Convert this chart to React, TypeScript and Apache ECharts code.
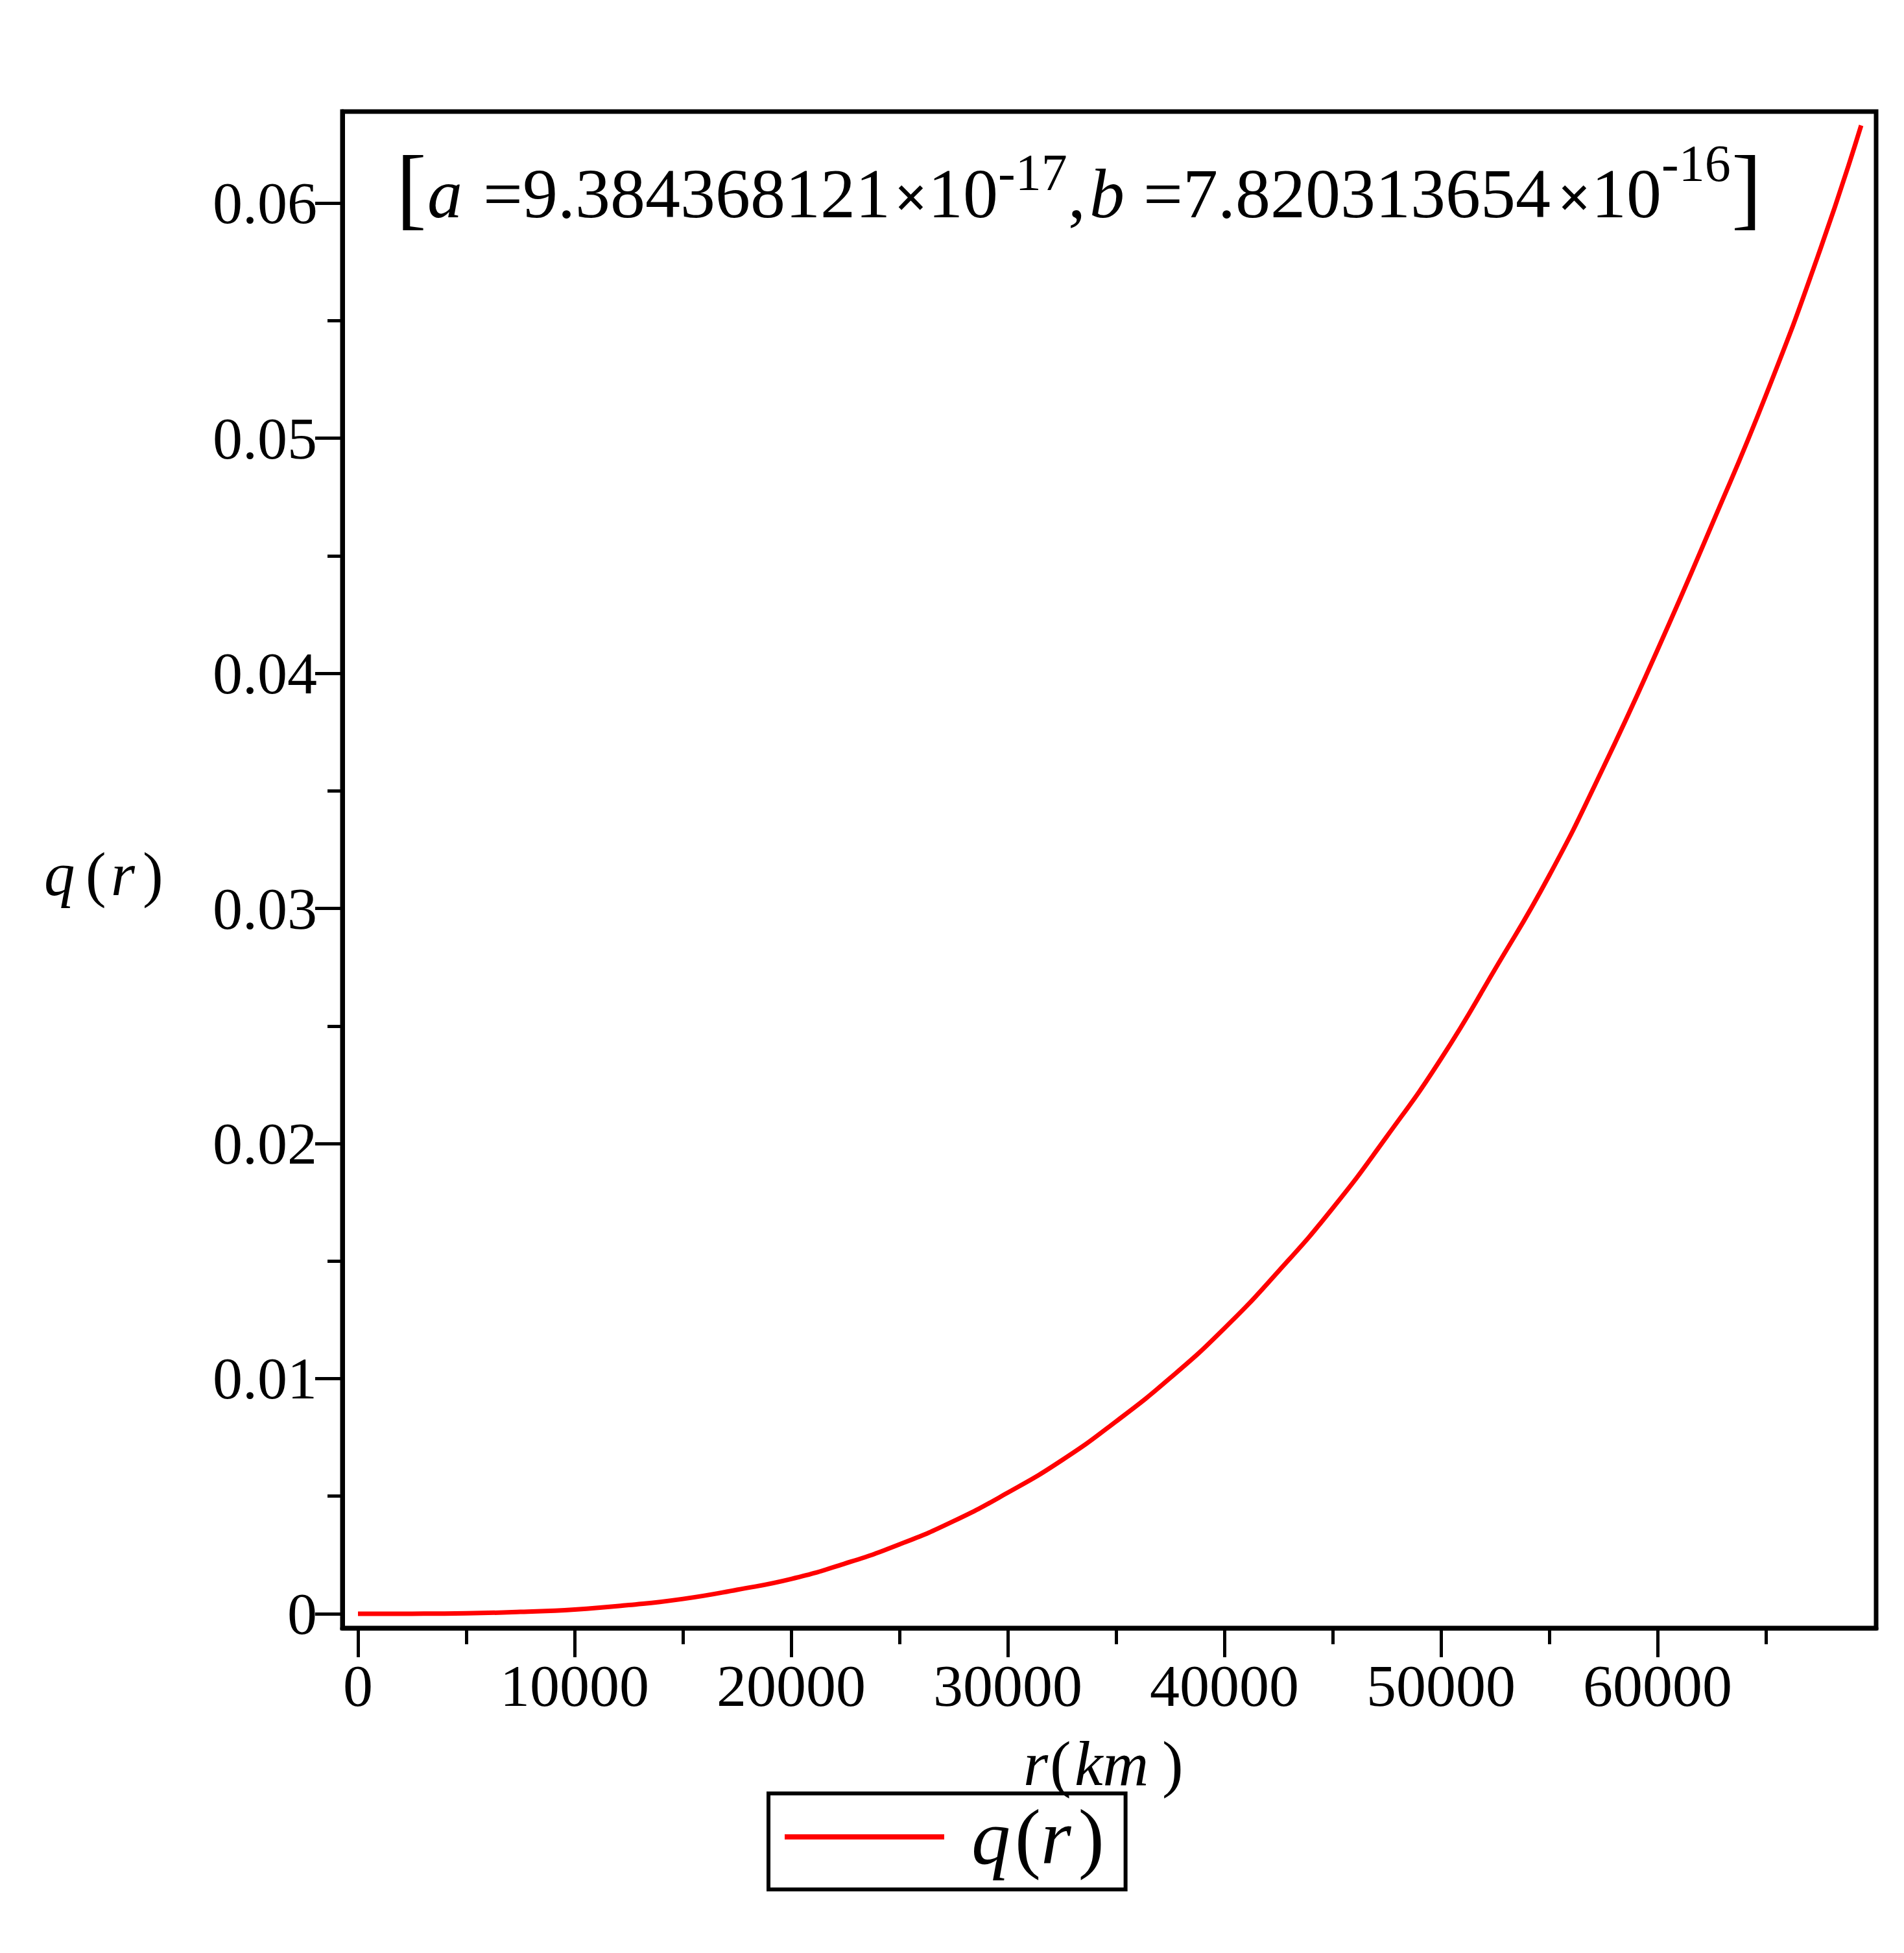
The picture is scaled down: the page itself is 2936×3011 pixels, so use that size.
import React, { useEffect, useRef } from "react";
import * as echarts from "echarts";

// ---- data ----
const seriesName = "q(r)";
const rValues = [
  0, 2500, 5000, 7500, 10000, 12500, 15000, 17500, 20000, 22500, 25000, 27500, 30000, 32500, 35000,
  37500, 40000, 42500, 45000, 47500, 50000, 52500, 55000, 57500, 60000, 62500, 65000, 67500, 69400,
];
const qValues = [
  0, 0.000003, 0.00002, 0.00008, 0.00018, 0.00037, 0.00063, 0.00102, 0.00148, 0.00214, 0.00295, 0.00394,
  0.00515, 0.00653, 0.00818, 0.01003, 0.01214, 0.01457, 0.01725, 0.02030, 0.0236, 0.02742, 0.03140, 0.03600,
  0.0410, 0.04630, 0.05182, 0.05800, 0.0633,
];

const xMajorTicks = [0, 10000, 20000, 30000, 40000, 50000, 60000];
const xTickLabels = ["0", "10000", "20000", "30000", "40000", "50000", "60000"];
const xMinorTicks = [5000, 15000, 25000, 35000, 45000, 55000, 65000];

const yMajorTicks = [0, 0.01, 0.02, 0.03, 0.04, 0.05, 0.06];
const yTickLabels = ["0", "0.01", "0.02", "0.03", "0.04", "0.05", "0.06"];
const yMinorTicks = [0.005, 0.015, 0.025, 0.035, 0.045, 0.055];

const X_MIN = -719;
const X_MAX = 70090;
const Y_MIN = -0.000607;
const Y_MAX = 0.06389;

const FONT = "Liberation Serif";

type Piece = { text: string; x: number; y: number; size: number; italic?: boolean; bold?: boolean };

const annotation: Piece[] = [
  { text: "[", x: 611, y: 288, size: 140 },
  { text: "a", x: 659, y: 298, size: 108, italic: true },
  { text: "=9.384368121", x: 745, y: 298, size: 108 },
  { text: "\u00d7", x: 1379, y: 304, size: 90, bold: true },
  { text: "10", x: 1431, y: 298, size: 108 },
  { text: "-17", x: 1539, y: 266, size: 80 },
  { text: ",", x: 1647, y: 298, size: 108 },
  { text: "b", x: 1680, y: 298, size: 108, italic: true },
  { text: "=7.820313654", x: 1763, y: 298, size: 108 },
  { text: "\u00d7", x: 2402, y: 304, size: 90, bold: true },
  { text: "10", x: 2454, y: 298, size: 108 },
  { text: "-16", x: 2562, y: 252, size: 80 },
  { text: "]", x: 2670, y: 288, size: 140 },
];

const yName: Piece[] = [
  { text: "q", x: 68, y: 1348, size: 95, italic: true },
  { text: "(", x: 132, y: 1348, size: 95 },
  { text: "r", x: 171, y: 1348, size: 95, italic: true },
  { text: ")", x: 220, y: 1348, size: 95 },
];

const xName: Piece[] = [
  { text: "r", x: 1578, y: 2719, size: 98, italic: true },
  { text: "(", x: 1619, y: 2719, size: 98 },
  { text: "km", x: 1657, y: 2719, size: 98, italic: true },
  { text: ")", x: 1792, y: 2719, size: 98 },
];

function toGraphic(p: Piece) {
  return {
    type: "text",
    x: p.x,
    y: p.y,
    z: 10,
    style: {
      text: p.text,
      fontFamily: FONT,
      fontSize: p.size,
      fontStyle: p.italic ? "italic" : "normal",
      fontWeight: p.bold ? "bold" : "normal",
      fill: "#000",
      align: "left",
      verticalAlign: "middle",
    },
  };
}

function labelFor(ticks: number[], labels: string[]) {
  return (v: number) => {
    const i = ticks.findIndex((t) => Math.abs(t - v) < 1e-9 * Math.max(1, Math.abs(t)) + 1e-12);
    return i >= 0 ? labels[i] : "";
  };
}

export default function App() {
  const ref = useRef<HTMLDivElement>(null);
  useEffect(() => {
    document.body.style.margin = "0";
    const chart = echarts.init(ref.current as HTMLDivElement, null, { renderer: "svg" });
    const data = rValues.map((r, i) => [r, qValues[i]]);
    const option: any = {
      animation: false,
      backgroundColor: "#fff",
      textStyle: { fontFamily: FONT },
      grid: {
        left: 528,
        right: 43,
        top: 172,
        bottom: 501,
        show: true,
        borderColor: "#000",
        borderWidth: 7,
        backgroundColor: "transparent",
        containLabel: false,
      },
      xAxis: [
        {
          type: "value",
          min: X_MIN,
          max: X_MAX,
          position: "bottom",
          axisLine: { show: true, onZero: false, lineStyle: { color: "#000", width: 7 } },
          axisTick: { show: true, customValues: xMajorTicks, length: 45, lineStyle: { color: "#000", width: 5 } },
          axisLabel: {
            show: true,
            customValues: xMajorTicks,
            formatter: labelFor(xMajorTicks, xTickLabels),
            margin: 43,
            fontSize: 92,
            fontFamily: FONT,
            color: "#000",
          },
          splitLine: { show: false },
        },
        {
          type: "value",
          min: X_MIN,
          max: X_MAX,
          position: "bottom",
          axisLine: { show: false, onZero: false },
          axisTick: { show: true, customValues: xMinorTicks, length: 25, lineStyle: { color: "#000", width: 5 } },
          axisLabel: { show: false },
          splitLine: { show: false },
        },
      ],
      yAxis: [
        {
          type: "value",
          min: Y_MIN,
          max: Y_MAX,
          position: "left",
          axisLine: { show: true, onZero: false, lineStyle: { color: "#000", width: 7 } },
          axisTick: { show: true, customValues: yMajorTicks, length: 42, lineStyle: { color: "#000", width: 5 } },
          axisLabel: {
            show: true,
            customValues: yMajorTicks,
            formatter: labelFor(yMajorTicks, yTickLabels),
            margin: 39,
            fontSize: 92,
            fontFamily: FONT,
            color: "#000",
          },
          splitLine: { show: false },
        },
        {
          type: "value",
          min: Y_MIN,
          max: Y_MAX,
          position: "left",
          axisLine: { show: false, onZero: false },
          axisTick: { show: true, customValues: yMinorTicks, length: 23, lineStyle: { color: "#000", width: 5 } },
          axisLabel: { show: false },
          splitLine: { show: false },
        },
      ],
      legend: {
        show: true,
        left: 1185,
        top: 2765,
        orient: "horizontal",
        data: [{ name: seriesName, icon: "rect" }],
        itemWidth: 246,
        itemHeight: 8,
        borderColor: "#000",
        borderWidth: 6,
        padding: [7, 33, 21, 25],
        selectedMode: false,
        formatter: () => "{q|q}{n|(}{i|r}{c|)}",
        textStyle: {
          color: "#000",
          fontFamily: FONT,
          fontSize: 120,
          rich: {
            q: { fontFamily: FONT, fontSize: 120, fontStyle: "italic", color: "#000", padding: [0, 7, 0, 37] },
            n: { fontFamily: FONT, fontSize: 120, color: "#000", padding: [0, 0, 0, 0] },
            i: { fontFamily: FONT, fontSize: 120, fontStyle: "italic", color: "#000", padding: [0, 11, 0, 0] },
            c: { fontFamily: FONT, fontSize: 120, color: "#000" },
          },
        },
      },
      series: [
        {
          name: seriesName,
          type: "line",
          xAxisIndex: 0,
          yAxisIndex: 0,
          data,
          smooth: 0.5,
          symbol: "none",
          showSymbol: false,
          color: "#ff0000",
          lineStyle: { color: "#ff0000", width: 7 },
          clip: true,
        },
      ],
      graphic: [...annotation.map(toGraphic), ...yName.map(toGraphic), ...xName.map(toGraphic)],
    };
    chart.setOption(option);
    return () => chart.dispose();
  }, []);
  return <div ref={ref} style={{ width: 2936, height: 3011 }} />;
}
